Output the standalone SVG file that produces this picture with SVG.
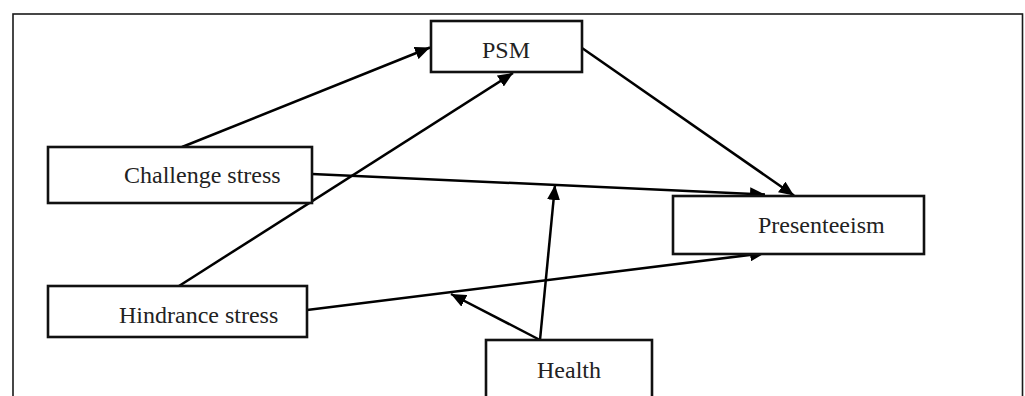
<svg xmlns="http://www.w3.org/2000/svg" width="1025" height="396" viewBox="0 0 1025 396">
  <style>
    .frame { fill: none; stroke: #1a1a1a; stroke-width: 1.6; }
    .box { fill: #ffffff; stroke: #111111; stroke-width: 2.6; }
    .lbl { font-family: "Liberation Serif", "Times New Roman", serif; font-size: 24px; fill: #222222; }
    .conn { fill: none; stroke: #000000; stroke-width: 2.5; marker-end: url(#arr); }
  </style>
  <defs>
    <marker id="arr" viewBox="0 0 15 13" refX="15" refY="6.5" markerWidth="15" markerHeight="13" markerUnits="userSpaceOnUse" orient="auto">
      <path d="M0,0 L15,6.5 L0,13 z" fill="#000000"/>
    </marker>
  </defs>
  <rect width="1025" height="396" fill="#ffffff"/>
  <rect class="frame" x="13" y="14" width="1009.5" height="400"/>

  <g id="connectors">
    <line class="conn" x1="182" y1="147" x2="430" y2="47.5"/>
    <line class="conn" x1="179" y1="286" x2="513" y2="73"/>
    <line class="conn" x1="582" y1="48" x2="794" y2="195.5"/>
    <line class="conn" x1="312" y1="174" x2="765" y2="194.5"/>
    <line class="conn" x1="307" y1="310" x2="765" y2="253"/>
    <line class="conn" x1="540" y1="340" x2="555" y2="185"/>
    <line class="conn" x1="540" y1="340" x2="451" y2="294"/>
  </g>

  <g id="psm">
    <rect class="box" x="431" y="21" width="151" height="51"/>
    <text class="lbl" x="482" y="58">PSM</text>
  </g>
  <g id="challenge-stress">
    <rect class="box" x="48" y="147" width="264" height="56"/>
    <text class="lbl" x="124" y="183">Challenge stress</text>
  </g>
  <g id="hindrance-stress">
    <rect class="box" x="48" y="286" width="259" height="51"/>
    <text class="lbl" x="119" y="323">Hindrance stress</text>
  </g>
  <g id="presenteeism">
    <rect class="box" x="673" y="196" width="251" height="58"/>
    <text class="lbl" x="758" y="233">Presenteeism</text>
  </g>
  <g id="health">
    <rect class="box" x="486" y="340" width="166" height="70"/>
    <text class="lbl" x="537" y="378">Health</text>
  </g>
</svg>
